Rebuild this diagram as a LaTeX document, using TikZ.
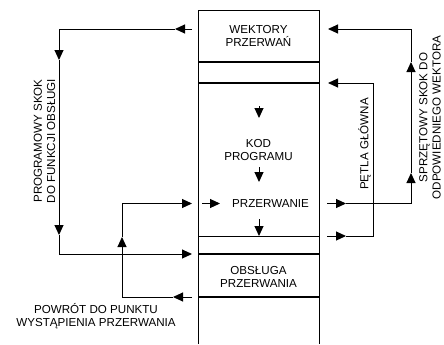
\documentclass[tikz,border=0pt]{standalone}
\usepackage{fontspec}
\setmainfont{Liberation Sans}
\usetikzlibrary{arrows.meta}
\begin{document}
\begin{tikzpicture}[x=1bp,y=-1bp,
  lbl/.style={inner sep=0pt,align=center,font=\fontsize{11.6bp}{13.3bp}\selectfont},
  wire/.style={line width=1bp},
  arr/.style={wire,-{Triangle[length=10bp,width=9bp]}},
  sep/.style={line width=1.2bp},
  thick sep/.style={line width=1.7bp}]
\useasboundingbox (0,0) rectangle (444,344);
% column
\coordinate (TL) at (198,10); \coordinate (TR) at (319,10);
\coordinate (BL) at (198,344); \coordinate (BR) at (319,344);
\draw[wire] (BL) -- (TL) -- (TR) -- (BR);
\coordinate (a1) at (198,62);  \coordinate (b1) at (319,62);
\coordinate (a2) at (198,83);  \coordinate (b2) at (319,83);
\coordinate (a3) at (198,236); \coordinate (b3) at (319,236);
\coordinate (a4) at (198,254); \coordinate (b4) at (319,254);
\coordinate (a5) at (198,297); \coordinate (b5) at (319,297);
\draw[sep] (a1) -- (b1);
\draw[sep] (a2) -- (b2);
\draw[wire] (a3) -- (b3);
\draw[thick sep] (a4) -- (b4);
\draw[sep] (a5) -- (b5);
% texts
\node[lbl] (wek) at (258.5,36) {WEKTORY\\PRZERWAŃ};
\node[lbl] (kod) at (258.5,150) {KOD\\PROGRAMU};
\node[lbl] (prz) at (270.5,203.5) {PRZERWANIE};
\node[lbl] (obs) at (258.5,277) {OBSŁUGA\\PRZERWANIA};
\node[lbl] (pow) at (96,316) {POWRÓT DO PUNKTU\\WYSTĄPIENIA PRZERWANIA};
\node[lbl,rotate=90] (prog) at (44.5,141) {PROGRAMOWY SKOK\\DO FUNKCJI OBSŁUGI};
\node[lbl,rotate=90] (petla) at (364.5,144) {PĘTLA GŁÓWNA};
\node[lbl,rotate=90] (sprz) at (430,117.5) {SPRZĘTOWY SKOK DO\\ODPOWIEDNIEGO WEKTORA};
% inner arrows
\coordinate (d1s) at (259,106); \coordinate (d1e) at (259,118);
\coordinate (d2s) at (259,167); \coordinate (d2e) at (259,182);
\coordinate (d3s) at (259,219); \coordinate (d3e) at (259,236);
\coordinate (r0s) at (202,203.5); \coordinate (r0e) at (220,203.5);
\draw[arr] (d1s) -- (d1e);
\draw[arr] (d2s) -- (d2e);
\draw[arr] (d3s) -- (d3e);
\draw[arr] (r0s) -- (r0e);
% left loop: programowy skok
\coordinate (L1) at (192,29); \coordinate (L2) at (175,29);
\coordinate (L3) at (59,29); \coordinate (L4) at (59,60);
\coordinate (L5) at (59,235); \coordinate (L6) at (59,254);
\coordinate (L7) at (192,254);
\draw[arr] (L1) -- (L2);
\draw[arr] (L2) -- (L3) -- (L4);
\draw[arr] (L4) -- (L5);
\draw[arr] (L5) -- (L6) -- (L7);
% return loop
\coordinate (R1) at (192,297); \coordinate (R2) at (173,297);
\coordinate (R3) at (122,297); \coordinate (R4) at (122,237);
\coordinate (R5) at (122,203.5); \coordinate (R6) at (192,203.5);
\draw[arr] (R1) -- (R2);
\draw[arr] (R2) -- (R3) -- (R4);
\draw[arr] (R4) -- (R5) -- (R6);
% right: hardware jump
\coordinate (H1) at (327,203.5); \coordinate (H2) at (346,203.5);
\coordinate (H3) at (411,203.5); \coordinate (H4) at (411,173);
\coordinate (H5) at (411,62); \coordinate (H6) at (411,29);
\coordinate (H7) at (328,29);
\draw[arr] (H1) -- (H2);
\draw[arr] (H2) -- (H3) -- (H4);
\draw[arr] (H4) -- (H5);
\draw[arr] (H5) -- (H6) -- (H7);
% right: main loop
\coordinate (M1) at (327,236); \coordinate (M2) at (346,236);
\coordinate (M3) at (373,236); \coordinate (M4) at (373,83);
\coordinate (M5) at (328,83);
\draw[arr] (M1) -- (M2);
\draw[arr] (M2) -- (M3) -- (M4) -- (M5);
\end{tikzpicture}
\end{document}
